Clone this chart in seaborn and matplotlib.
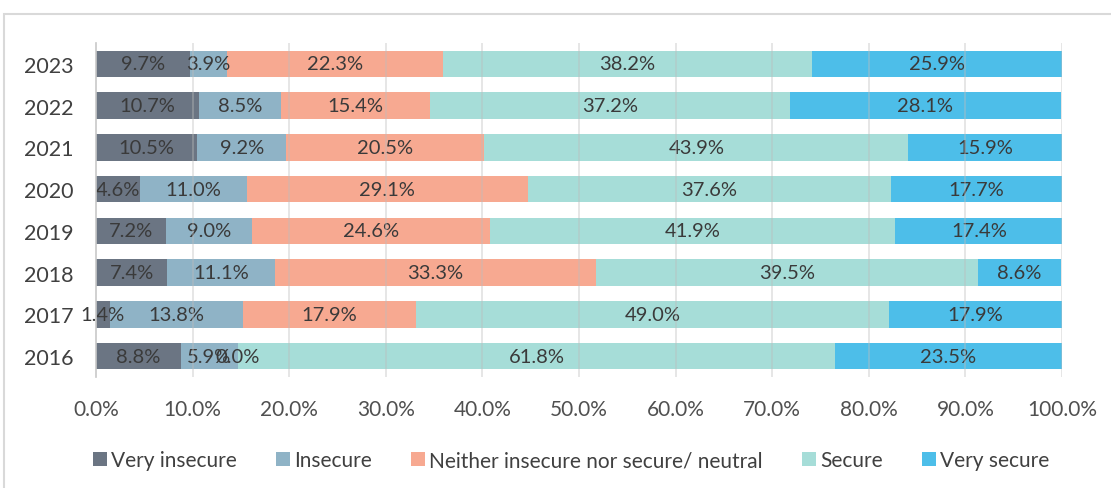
import numpy as np
import pandas as pd
import matplotlib
matplotlib.use("Agg")
import matplotlib.pyplot as plt
from matplotlib.patches import Rectangle, Patch
import seaborn as sns

years = ["2023", "2022", "2021", "2020", "2019", "2018", "2017", "2016"]
categories = ["Very insecure", "Insecure", "Neither insecure nor secure/ neutral",
              "Secure", "Very secure"]
very_insecure = [9.7, 10.7, 10.5, 4.6, 7.2, 7.4, 1.4, 8.8]
insecure = [3.9, 8.5, 9.2, 11.0, 9.0, 11.1, 13.8, 5.9]
neutral = [22.3, 15.4, 20.5, 29.1, 24.6, 33.3, 17.9, 0.0]
secure = [38.2, 37.2, 43.9, 37.6, 41.9, 39.5, 49.0, 61.8]
very_secure = [25.9, 28.1, 15.9, 17.7, 17.4, 8.6, 17.9, 23.5]
x_ticks = [0, 10, 20, 30, 40, 50, 60, 70, 80, 90, 100]

colors = ["#6b7583", "#8fb3c6", "#f7a991", "#a6ddd8", "#4dbee9"]

sns.set_theme(style="white")
plt.rcParams["font.family"] = ["Lato", "DejaVu Sans"]

series = [very_insecure, insecure, neutral, secure, very_secure]
df = pd.DataFrame({"year": years})
for name, vals in zip(categories, series):
    df[name] = vals
cum = df[categories].cumsum(axis=1)
starts = cum - df[categories]

fig = plt.figure(figsize=(11.11, 4.89), dpi=100)
ax = fig.add_axes([0.0864, 0.227, 0.8695, 0.683])

# stacked bars: draw cumulative totals from the outermost segment inward
for name, col in reversed(list(zip(categories, colors))):
    sns.barplot(x=cum[name], y=df["year"], order=years, orient="h",
                color=col, width=0.63, ax=ax, saturation=1, linewidth=0)

# segment labels
for i, yr in enumerate(years):
    for name in categories:
        v = df.loc[i, name]
        xc = starts.loc[i, name] + v / 2
        ax.text(xc, i, f"{v:.1f}%", ha="center", va="center",
                fontsize=14.5, color="#3a3a3a")

ax.set_xlim(0, 100)
ax.set_ylim(7.5, -0.5)
ax.set_xticks(x_ticks)
ax.set_xticklabels([f"{t:.1f}%" for t in x_ticks], fontsize=15, color="#505050")
ax.tick_params(axis="y", labelsize=15.5, labelcolor="#404040", length=0, pad=16)
ax.tick_params(axis="x", length=0, pad=16)
ax.set_xlabel("")
ax.set_ylabel("")
for s in ["top", "right", "bottom"]:
    ax.spines[s].set_visible(False)
ax.spines["left"].set_color("#c8c8c8")
ax.spines["left"].set_linewidth(1.2)
ax.spines["left"].set_zorder(5)

# light vertical gridlines over the bars
for t in x_ticks[1:]:
    ax.axvline(t, color="#bdbdbd", alpha=0.45, linewidth=1.2, zorder=4)

handles = [Patch(facecolor=c, edgecolor="none") for c in colors]
fig.legend(handles, categories, loc="center", bbox_to_anchor=(0.514, 0.057),
           ncol=5, frameon=False, fontsize=15, handlelength=0.65,
           handleheight=0.65, handletextpad=0.2, columnspacing=1.9,
           labelcolor="#404040")

fig.patches.append(Rectangle((0.004, -0.01), 1.0, 0.98, transform=fig.transFigure,
                             fill=False, edgecolor="#d9d9d9", linewidth=1.5))

fig.savefig("out.png", dpi=100)
